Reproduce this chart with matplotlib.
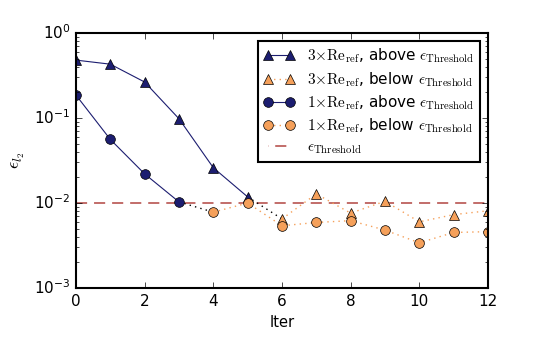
import matplotlib
matplotlib.use("Agg")
import matplotlib.pyplot as plt
from matplotlib.lines import Line2D
import numpy as np

plt.style.use("classic")
plt.rcParams["font.family"] = ["DejaVu Sans"]
plt.rcParams["mathtext.fontset"] = "cm"

iters_3_above = [0, 1, 2, 3, 4, 5]
err_3_above = [0.48, 0.43, 0.265, 0.098, 0.026, 0.0118]
iters_3_below = [6, 7, 8, 9, 10, 11, 12]
err_3_below = [0.0065, 0.0128, 0.0076, 0.0105, 0.0060, 0.0073, 0.0081]
iters_1_above = [0, 1, 2, 3]
err_1_above = [0.186, 0.056, 0.022, 0.0103]
iters_1_below = [4, 5, 6, 7, 8, 9, 10, 11, 12]
err_1_below = [0.0078, 0.0100, 0.0054, 0.0059, 0.0062, 0.0048, 0.0034, 0.0045, 0.0046]
threshold = 0.01

navy = "#1c1d70"
orange = "#f5a05a"
red = "#b85450"

fig = plt.figure(figsize=(5.4, 3.44), dpi=100, facecolor="white")
ax = fig.add_axes([0.1407, 0.1628, 0.763, 0.7412])

# connectors between above and below segments
ax.plot([iters_3_above[-1], iters_3_below[0]], [err_3_above[-1], err_3_below[0]],
        ls=":", color="black", lw=1)
ax.plot([iters_1_above[-1], iters_1_below[0]], [err_1_above[-1], err_1_below[0]],
        ls=":", color="black", lw=1)

h1, = ax.plot(iters_3_above, err_3_above, "-^", color=navy, mfc=navy, mec="black",
              ms=7, lw=0.8)
h2, = ax.plot(iters_3_below, err_3_below, ":^", color=orange, mfc=orange, mec="black",
              ms=7, lw=1)
h3, = ax.plot(iters_1_above, err_1_above, "-o", color=navy, mfc=navy, mec="black",
              ms=7, lw=0.8)
h4, = ax.plot(iters_1_below, err_1_below, ":o", color=orange, mfc=orange, mec="black",
              ms=7, lw=1)
ax.axhline(threshold, color=red, ls=(0, (8, 5)), lw=1.2, zorder=1)
h5 = Line2D([], [], color=red, lw=1.2, ls=(7.8, (8, 5)))

labels = [r"$3{\times}\mathrm{Re}_{\mathrm{ref}}$, above $\epsilon_{\mathrm{Threshold}}$",
          r"$3{\times}\mathrm{Re}_{\mathrm{ref}}$, below $\epsilon_{\mathrm{Threshold}}$",
          r"$1{\times}\mathrm{Re}_{\mathrm{ref}}$, above $\epsilon_{\mathrm{Threshold}}$",
          r"$1{\times}\mathrm{Re}_{\mathrm{ref}}$, below $\epsilon_{\mathrm{Threshold}}$",
          r"$\epsilon_{\mathrm{Threshold}}$"]

ax.set_yscale("log")
ax.set_xlim(0, 12)
ax.set_ylim(1e-3, 1)
ax.set_xticks([0, 2, 4, 6, 8, 10, 12])
ax.set_xlabel("Iter", fontsize=10.5)
ax.set_ylabel(r"$\epsilon_{l_2}$", fontsize=13)
ax.tick_params(labelsize=11)
for s in ax.spines.values():
    s.set_linewidth(1.5)

leg = ax.legend([h1, h2, h3, h4, h5], labels, loc="upper right", numpoints=2,
                fontsize=11, frameon=True, fancybox=False, borderaxespad=0.5,
                handlelength=2.0, labelspacing=0.3, borderpad=0.4)
leg.get_frame().set_linewidth(1.5)
leg.get_frame().set_edgecolor("black")

fig.savefig("out.png", dpi=100, facecolor="white")
